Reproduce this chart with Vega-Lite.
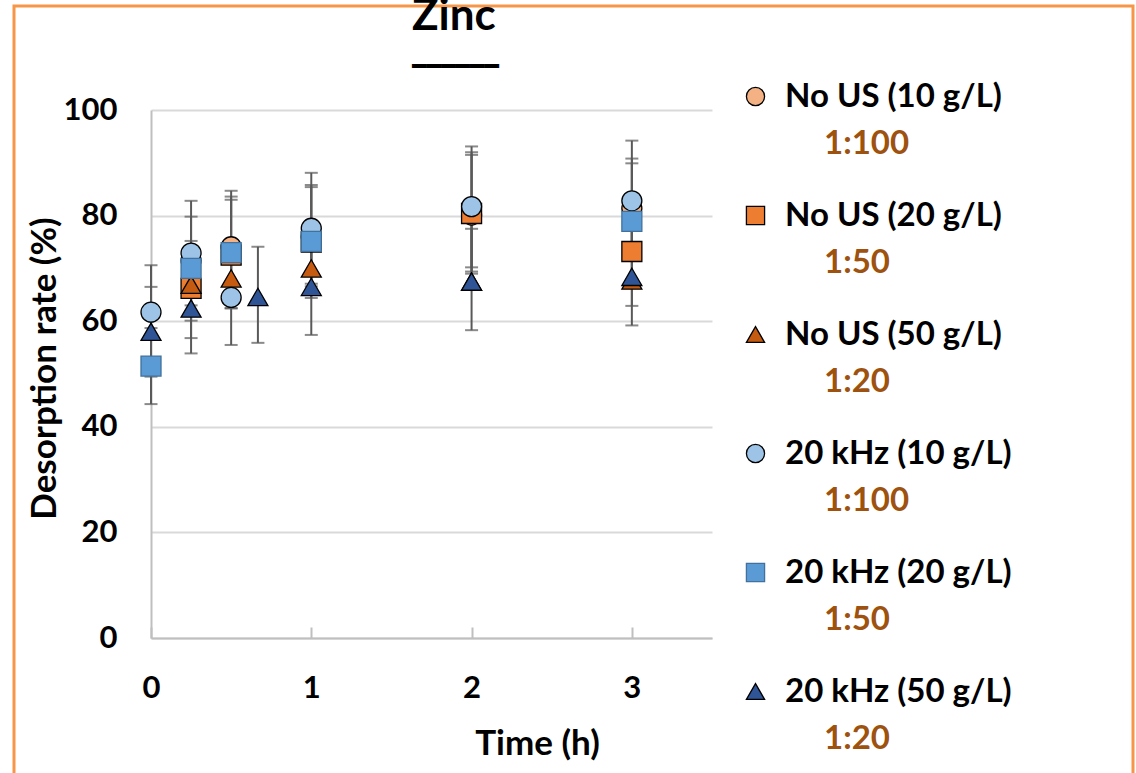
{
  "$schema": "https://vega.github.io/schema/vega-lite/v6.json",
  "width": 1119,
  "height": 770,
  "autosize": {"type": "none"},
  "padding": {"left": 14, "top": 6, "right": 3, "bottom": 0},
  "background": "white",
  "title": {
    "text": "Zinc",
    "subtitle": "━━━━━━",
    "frame": "group",
    "anchor": "start",
    "dx": 398,
    "offset": 0,
    "dy": 108,
    "baseline": "alphabetic",
    "font": "Lato",
    "fontSize": 44,
    "fontWeight": "bold",
    "color": "#000000",
    "subtitleFont": "DejaVu Sans",
    "subtitleFontSize": 24,
    "subtitleColor": "#000000",
    "subtitlePadding": 0
  },
  "data": {
    "values": [
      {"s": "No US (10 g/L)", "rk": "r1", "t": 0.25, "v": 71.5},
      {"s": "No US (10 g/L)", "rk": "r1", "t": 0.5, "v": 74.1, "lo": 63.5, "hi": 84.7},
      {"s": "No US (10 g/L)", "rk": "r1", "t": 1, "v": 76.0, "lo": 66.6, "hi": 85.4},
      {"s": "No US (10 g/L)", "rk": "r1", "t": 2, "v": 80.1, "lo": 69.4, "hi": 91.5},
      {"s": "No US (10 g/L)", "rk": "r1", "t": 3, "v": 81.4, "lo": 72.0, "hi": 90.8},
      {"s": "No US (20 g/L)", "rk": "r2", "t": 0.25, "v": 66.2, "lo": 56.8, "hi": 75.2},
      {"s": "No US (20 g/L)", "rk": "r2", "t": 0.5, "v": 72.5, "lo": 62.5, "hi": 83.0},
      {"s": "No US (20 g/L)", "rk": "r2", "t": 1, "v": 75.0},
      {"s": "No US (20 g/L)", "rk": "r2", "t": 2, "v": 80.4, "lo": 69.0, "hi": 92.0},
      {"s": "No US (20 g/L)", "rk": "r2", "t": 3, "v": 73.2, "lo": 62.9, "hi": 83.5},
      {"s": "No US (50 g/L)", "rk": "r3", "t": 0.25, "v": 66.9},
      {"s": "No US (50 g/L)", "rk": "r3", "t": 0.5, "v": 68.1},
      {"s": "No US (50 g/L)", "rk": "r3", "t": 1, "v": 70.0},
      {"s": "No US (50 g/L)", "rk": "r3", "t": 2, "v": 67.5},
      {"s": "No US (50 g/L)", "rk": "r3", "t": 3, "v": 67.7},
      {"s": "20 kHz (10 g/L)", "rk": "r4", "t": 0, "v": 61.7, "lo": 52.8, "hi": 70.6},
      {"s": "20 kHz (10 g/L)", "rk": "r4", "t": 0.25, "v": 72.9, "lo": 63.0, "hi": 82.8},
      {"s": "20 kHz (10 g/L)", "rk": "r4", "t": 0.5, "v": 64.5, "lo": 55.5, "hi": 73.5},
      {"s": "20 kHz (10 g/L)", "rk": "r4", "t": 1, "v": 77.6, "lo": 67.1, "hi": 88.1},
      {"s": "20 kHz (10 g/L)", "rk": "r4", "t": 2, "v": 81.7, "lo": 70.2, "hi": 93.1},
      {"s": "20 kHz (10 g/L)", "rk": "r4", "t": 3, "v": 82.8, "lo": 71.4, "hi": 94.2},
      {"s": "20 kHz (20 g/L)", "rk": "r5", "t": 0, "v": 51.5, "lo": 44.3, "hi": 58.7},
      {"s": "20 kHz (20 g/L)", "rk": "r5", "t": 0.25, "v": 70.0, "lo": 60.1, "hi": 79.8},
      {"s": "20 kHz (20 g/L)", "rk": "r5", "t": 0.5, "v": 73.0, "lo": 62.4, "hi": 83.6},
      {"s": "20 kHz (20 g/L)", "rk": "r5", "t": 1, "v": 75.1, "lo": 64.4, "hi": 85.8},
      {"s": "20 kHz (20 g/L)", "rk": "r5", "t": 3, "v": 78.9, "lo": 67.9, "hi": 89.9},
      {"s": "20 kHz (50 g/L)", "rk": "r6", "t": 0, "v": 58.0, "lo": 49.5, "hi": 66.5},
      {"s": "20 kHz (50 g/L)", "rk": "r6", "t": 0.25, "v": 62.4, "lo": 53.9, "hi": 70.9},
      {"s": "20 kHz (50 g/L)", "rk": "r6", "t": 0.667, "v": 64.6, "lo": 55.9, "hi": 74.1},
      {"s": "20 kHz (50 g/L)", "rk": "r6", "t": 1, "v": 66.5, "lo": 57.4, "hi": 75.6},
      {"s": "20 kHz (50 g/L)", "rk": "r6", "t": 2, "v": 67.5, "lo": 58.3, "hi": 77.5},
      {"s": "20 kHz (50 g/L)", "rk": "r6", "t": 3, "v": 68.4, "lo": 59.2, "hi": 77.6}
    ]
  },
  "encoding": {
    "x": {
      "field": "t",
      "type": "quantitative",
      "scale": {"domain": [0, 3.5], "range": [137, 698], "nice": false, "zero": false},
      "axis": {
        "title": "Time (h)",
        "values": [0, 1, 2, 3],
        "format": "d",
        "grid": false,
        "offset": -138,
        "tickSize": -11,
        "tickColor": "#BFBFBF",
        "tickWidth": 2,
        "labelPadding": 46,
        "labelFlush": false,
        "titleX": 523,
        "titleY": 116,
        "titleBaseline": "alphabetic",
        "titleAlign": "center"
      }
    }
  },
  "layer": [
    {
      "transform": [{"filter": "isValid(datum.lo)"}],
      "mark": {"type": "rule", "color": "#595959", "strokeWidth": 2},
      "encoding": {
        "y": {
          "field": "lo",
          "type": "quantitative",
          "scale": {"domain": [0, 100], "range": [632, 104], "nice": false, "zero": false},
          "axis": {
            "title": "Desorption rate (%)",
            "values": [0, 20, 40, 60, 80, 100],
            "grid": true,
            "ticks": false,
            "offset": -137,
            "labelPadding": 34,
            "titleX": -107,
            "titleY": 362,
            "titleAngle": -90,
            "titleAlign": "center",
            "titleBaseline": "middle"
          }
        },
        "y2": {"field": "hi"}
      }
    },
    {
      "transform": [{"filter": "isValid(datum.lo)"}],
      "mark": {"type": "tick", "orient": "horizontal", "color": "#595959", "thickness": 2, "size": 13},
      "encoding": {
        "y": {"field": "lo", "type": "quantitative", "scale": {"domain": [0, 100], "range": [632, 104], "nice": false, "zero": false}, "axis": {"title": "Desorption rate (%)"}}
      }
    },
    {
      "transform": [{"filter": "isValid(datum.hi)"}],
      "mark": {"type": "tick", "orient": "horizontal", "color": "#595959", "thickness": 2, "size": 13},
      "encoding": {
        "y": {"field": "hi", "type": "quantitative", "scale": {"domain": [0, 100], "range": [632, 104], "nice": false, "zero": false}, "axis": {"title": "Desorption rate (%)"}}
      }
    },
    {
      "mark": {"type": "point", "filled": true, "opacity": 1, "size": 400},
      "encoding": {
        "y": {"field": "v", "type": "quantitative", "scale": {"domain": [0, 100], "range": [632, 104], "nice": false, "zero": false}, "axis": {"title": "Desorption rate (%)"}},
        "color": {
          "field": "s",
          "type": "nominal",
          "scale": {
            "domain": ["No US (10 g/L)", "No US (20 g/L)", "No US (50 g/L)", "20 kHz (10 g/L)", "20 kHz (20 g/L)", "20 kHz (50 g/L)"],
            "range": ["#F4B183", "#ED7D31", "#C55A11", "#9DC3E6", "#5B9BD5", "#2F5597"]
          },
          "legend": {
            "orient": "none",
            "legendX": 725,
            "legendY": 74,
            "title": null,
            "padding": 0,
            "labelFont": "Lato",
            "labelFontSize": 33,
            "labelFontWeight": "bold",
            "labelColor": "#000000",
            "labelLimit": 500,
            "labelOffset": 13,
            "symbolSize": 330,
            "symbolStrokeWidth": 1.3,
            "rowPadding": 85
          }
        },
        "shape": {
          "field": "s",
          "type": "nominal",
          "scale": {
            "domain": ["No US (10 g/L)", "No US (20 g/L)", "No US (50 g/L)", "20 kHz (10 g/L)", "20 kHz (20 g/L)", "20 kHz (50 g/L)"],
            "range": ["circle", "square", "triangle-up", "circle", "square", "triangle-up"]
          }
        },
        "stroke": {
          "field": "s",
          "type": "nominal",
          "scale": {
            "domain": ["No US (10 g/L)", "No US (20 g/L)", "No US (50 g/L)", "20 kHz (10 g/L)", "20 kHz (20 g/L)", "20 kHz (50 g/L)"],
            "range": ["#000000", "#000000", "#000000", "#000000", "#41719C", "#000000"]
          }
        },
        "strokeWidth": {
          "field": "rk",
          "type": "ordinal",
          "scale": {"domain": ["r1", "r2", "r3", "r4", "r5", "r6"], "range": [1.3, 1.3, 1.3, 1.3, 1.3, 1.3]},
          "legend": {
            "orient": "none",
            "legendX": 764,
            "legendY": 121,
            "title": null,
            "padding": 0,
            "labelExpr": "datum.label == 'r1' || datum.label == 'r4' ? '1:100' : (datum.label == 'r2' || datum.label == 'r5' ? '1:50' : '1:20')",
            "labelFont": "Lato",
            "labelFontSize": 33,
            "labelFontWeight": "bold",
            "labelColor": "#9E5210",
            "labelLimit": 500,
            "labelOffset": 13,
            "symbolSize": 400,
            "symbolOpacity": 0,
            "symbolStrokeWidth": 0,
            "rowPadding": 85
          }
        }
      }
    }
  ],
  "config": {
    "view": {"stroke": "#F79646", "strokeWidth": 3},
    "axis": {
      "labelFont": "Lato",
      "labelFontWeight": "bold",
      "labelFontSize": 31,
      "labelColor": "#000000",
      "titleFont": "Lato",
      "titleFontWeight": "bold",
      "titleFontSize": 35,
      "titleColor": "#000000",
      "domainColor": "#BFBFBF",
      "domainWidth": 2,
      "gridColor": "#D9D9D9",
      "gridWidth": 2
    }
  }
}
